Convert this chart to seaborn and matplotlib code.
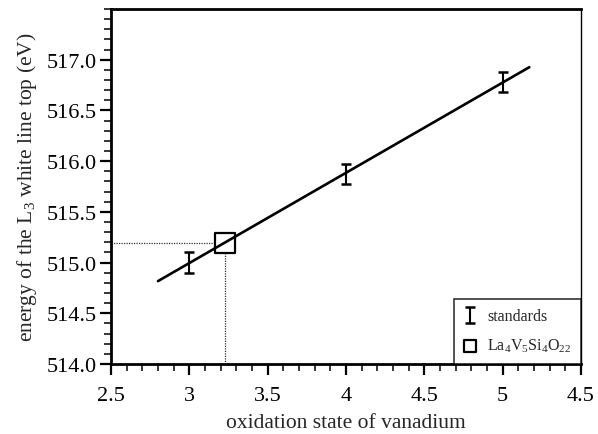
import numpy as np
import pandas as pd
import matplotlib
matplotlib.use("Agg")
import matplotlib.pyplot as plt
from matplotlib.ticker import MultipleLocator, FormatStrFormatter, FixedLocator
import seaborn as sns

# ---- data ----
std_ox = [3, 4, 5]
std_energy = [515.0, 515.875, 516.78]
std_err = [0.1, 0.1, 0.1]
sample_ox = [3.23]
sample_energy = [515.19]
fit_range = [2.8, 5.17]
x_ticks = [2.5, 3, 3.5, 4, 4.5, 5, 5.5]
x_ticklabels = ["2.5", "3", "3.5", "4", "4.5", "5", "4.5"]

sns.set_theme(style="ticks")
plt.rcParams['font.family'] = ['Liberation Serif', 'DejaVu Serif']
plt.rcParams['mathtext.fontset'] = 'custom'
plt.rcParams['mathtext.rm'] = 'Liberation Serif'
plt.rcParams['mathtext.it'] = 'Liberation Serif'

fig = plt.figure(figsize=(5.98, 4.35), dpi=100)
ax = fig.add_axes([0.1856, 0.161, 0.9716 - 0.1856, 0.977 - 0.161])

# linear fit
coef = np.polyfit(std_ox, std_energy, 1)
fit_df = pd.DataFrame({"x": fit_range, "y": np.polyval(coef, fit_range)})

# dotted guide lines
ax.hlines(sample_energy[0], 2.5, sample_ox[0], colors="#333333", linestyles=(0, (1, 1)), lw=0.9, zorder=1)
ax.vlines(sample_ox[0], 514.0, sample_energy[0], colors="#333333", linestyles=(0, (1, 1)), lw=0.9, zorder=1)

sns.scatterplot(x=sample_ox, y=sample_energy, marker="s", s=190, facecolor="white",
                edgecolor="black", linewidth=1.6, ax=ax, zorder=2, label="La$_4$V$_5$Si$_4$O$_{22}$")
sns.lineplot(data=fit_df, x="x", y="y", color="black", lw=1.9, ax=ax, zorder=3, legend=False)
eb = ax.errorbar(std_ox, std_energy, yerr=std_err, fmt="none", ecolor="black",
                 elinewidth=1.5, capsize=3.5, capthick=1.8, zorder=4, label="standards")

ax.set_xlim(2.5, 5.5)
ax.set_ylim(514.0, 517.5)
ax.xaxis.set_major_locator(FixedLocator(x_ticks))
ax.set_xticklabels(x_ticklabels)
ax.xaxis.set_minor_locator(MultipleLocator(0.1))
ax.yaxis.set_major_locator(FixedLocator([514.0, 514.5, 515.0, 515.5, 516.0, 516.5, 517.0]))
ax.yaxis.set_major_formatter(FormatStrFormatter("%.1f"))
ax.yaxis.set_minor_locator(MultipleLocator(0.1))

ax.tick_params(which="major", direction="out", length=8, width=1.6, labelsize=16, colors="black", pad=2)
ax.tick_params(axis="x", which="major", pad=8)
ax.tick_params(which="minor", direction="out", length=5, width=1.3)
for s in ["left", "bottom", "top"]:
    ax.spines[s].set_linewidth(2.0)
    ax.spines[s].set_color("black")
ax.spines["right"].set_linewidth(1.0)
ax.spines["right"].set_color("black")
ax.spines["top"].set_visible(True)
ax.spines["right"].set_visible(True)

ax.set_xlabel("oxidation state of vanadium", fontsize=15.5, labelpad=5.5)
ax.set_ylabel("energy of the L$_3$ white line top (eV)", fontsize=15.5, labelpad=6)

h, l = ax.get_legend_handles_labels()
order = [l.index("standards"), l.index("La$_4$V$_5$Si$_4$O$_{22}$")]
leg = ax.legend([h[i] for i in order], [l[i] for i in order], loc="lower right",
                borderaxespad=0, fancybox=False, frameon=True, fontsize=11.5,
                handlelength=0.9, handletextpad=0.6, borderpad=0.6, labelspacing=0.8,
                markerscale=0.65)
leg.get_frame().set_edgecolor("black")
leg.get_frame().set_linewidth(1.2)

fig.savefig("out.png", dpi=100)
